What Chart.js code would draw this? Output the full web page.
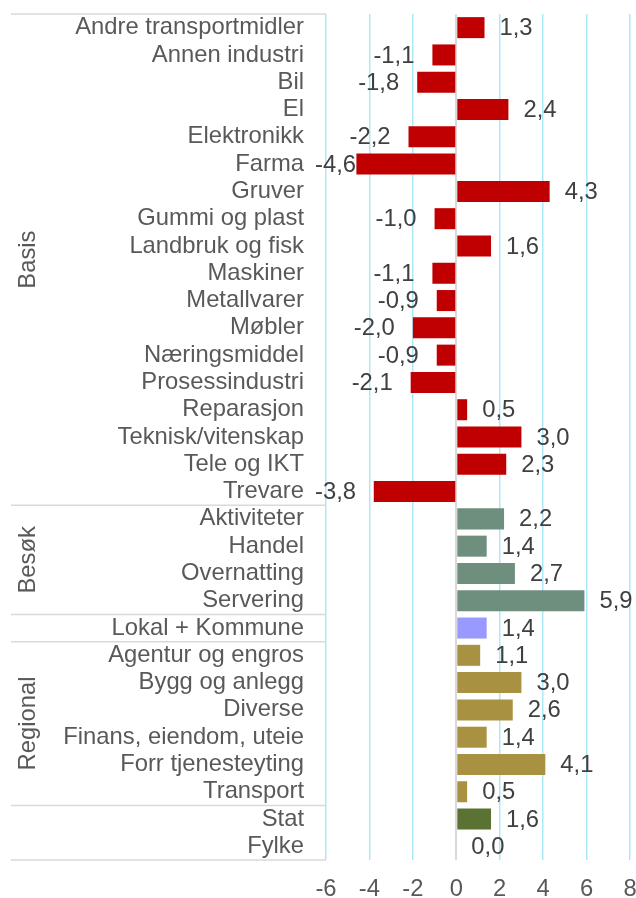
<!DOCTYPE html>
<html>
<head>
<meta charset="utf-8">
<script src="https://cdn.jsdelivr.net/npm/chart.js@4/dist/chart.umd.min.js"></script>
<style>
  html, body { margin: 0; padding: 0; background: #ffffff; }
  #wrap { width: 636px; height: 898px; }
</style>
</head>
<body>
<div id="wrap"><canvas id="chart" width="636" height="898"></canvas></div>
<script>
// Industry categories, top to bottom
const categories = [
  "Andre transportmidler", "Annen industri", "Bil", "El", "Elektronikk", "Farma",
  "Gruver", "Gummi og plast", "Landbruk og fisk", "Maskiner", "Metallvarer",
  "Møbler", "Næringsmiddel", "Prosessindustri", "Reparasjon", "Teknisk/vitenskap",
  "Tele og IKT", "Trevare",
  "Aktiviteter", "Handel", "Overnatting", "Servering",
  "Lokal + Kommune",
  "Agentur og engros", "Bygg og anlegg", "Diverse", "Finans, eiendom, uteie",
  "Forr tjenesteyting", "Transport",
  "Stat", "Fylke"
];

// Change per category
const values = [
  1.3, -1.1, -1.8, 2.4, -2.2, -4.6,
  4.3, -1.0, 1.6, -1.1, -0.9,
  -2.0, -0.9, -2.1, 0.5, 3.0,
  2.3, -3.8,
  2.2, 1.4, 2.7, 5.9,
  1.4,
  1.1, 3.0, 2.6, 1.4,
  4.1, 0.5,
  1.6, 0.0
];

// Groups: label, number of rows, bar colour
const groupNames = ["Basis", "Besøk", "", "Regional", ""];
const groupSizes = [18, 4, 1, 6, 2];
const groupColors = ["#C00000", "#6F8F7E", "#9999FF", "#A99142", "#5B7332"];

// X axis tick range
const xTicks = [-6, -4, -2, 0, 2, 4, 6, 8];

const FONT = "'Liberation Sans', Arial, sans-serif";
const FONT_SIZE = 23.8;

const barColors = [];
groupSizes.forEach((n, g) => {
  for (let i = 0; i < n; i++) barColors.push(groupColors[g]);
});

const fmt = v => v.toFixed(1).replace(".", ",");

// value labels next to each bar end
const valueLabels = {
  id: "valueLabels",
  afterDatasetsDraw(chart) {
    const { ctx, chartArea } = chart;
    const meta = chart.getDatasetMeta(0);
    ctx.save();
    ctx.font = FONT_SIZE + "px " + FONT;
    ctx.fillStyle = "#404040";
    ctx.textBaseline = "middle";
    ctx.textAlign = "left";
    meta.data.forEach((bar, i) => {
      const v = values[i];
      const text = fmt(v);
      const w = ctx.measureText(text).width;
      let x;
      if (v < 0) {
        x = bar.x - 18 - w;
        if (x < chartArea.left - 11) x = chartArea.left - 11;
      } else {
        x = bar.x + 15;
      }
      ctx.fillText(text, x, bar.y + 1);
    });
    ctx.restore();
  }
};

// group separators and rotated group names in the label column
const groupAxis = {
  id: "groupAxis",
  afterDraw(chart) {
    const { ctx, chartArea } = chart;
    const step = (chartArea.bottom - chartArea.top) / categories.length;
    ctx.save();
    ctx.strokeStyle = "#D9D9D9";
    ctx.lineWidth = 1.5;
    const line = yy => {
      ctx.beginPath();
      ctx.moveTo(11, yy);
      ctx.lineTo(chartArea.left, yy);
      ctx.stroke();
    };
    line(chartArea.top);
    let start = 0;
    groupSizes.forEach((n, g) => {
      const top = chartArea.top + start * step;
      const bottom = chartArea.top + (start + n) * step;
      line(bottom);
      if (groupNames[g]) {
        ctx.save();
        ctx.translate(28, (top + bottom) / 2);
        ctx.rotate(-Math.PI / 2);
        ctx.font = FONT_SIZE + "px " + FONT;
        ctx.fillStyle = "#595959";
        ctx.textAlign = "center";
        ctx.textBaseline = "middle";
        ctx.fillText(groupNames[g], 0, 0);
        ctx.restore();
      }
      start += n;
    });
    ctx.restore();
  }
};

new Chart(document.getElementById("chart"), {
  type: "bar",
  data: {
    labels: categories,
    datasets: [{
      data: values,
      backgroundColor: barColors,
      borderWidth: 0,
      barPercentage: 0.77,
      categoryPercentage: 1.0
    }]
  },
  options: {
    indexAxis: "y",
    responsive: false,
    animation: false,
    layout: { padding: { top: 14, right: 6, left: 0, bottom: 0 } },
    plugins: {
      legend: { display: false },
      tooltip: { enabled: false }
    },
    scales: {
      x: {
        min: xTicks[0],
        max: xTicks[xTicks.length - 1],
        afterFit(scale) {
          scale.height = 38;
          scale.paddingLeft = 0;
          scale.paddingRight = 0;
        },
        afterBuildTicks(scale) { scale.ticks = xTicks.map(v => ({ value: v })); },
        border: { display: false },
        grid: {
          drawTicks: false,
          lineWidth: ctx => (ctx.tick && ctx.tick.value === 0 ? 2 : 1.5),
          color: ctx => (ctx.tick && ctx.tick.value === 0 ? "#D9D9D9" : "#ABE9F9")
        },
        ticks: {
          padding: 15,
          color: "#595959",
          font: { family: FONT, size: FONT_SIZE },
          callback: v => String(v)
        }
      },
      y: {
        afterFit(scale) {
          scale.width = 326;
          scale.paddingTop = 0;
          scale.paddingBottom = 0;
        },
        border: { display: false },
        grid: { display: false, drawTicks: false },
        ticks: {
          padding: 22,
          autoSkip: false,
          color: "#595959",
          font: { family: FONT, size: FONT_SIZE }
        }
      }
    }
  },
  plugins: [valueLabels, groupAxis]
});
</script>
</body>
</html>
